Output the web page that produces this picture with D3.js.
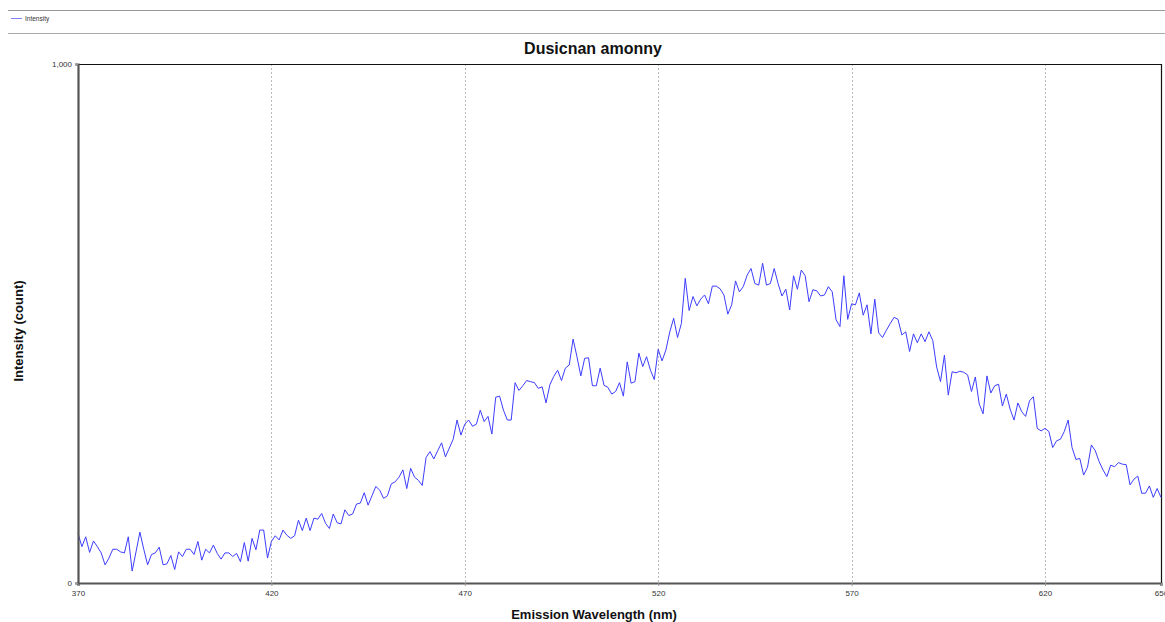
<!DOCTYPE html>
<html><head><meta charset="utf-8">
<script src="https://cdn.jsdelivr.net/npm/d3@7"></script>
<style>
html,body{margin:0;padding:0;background:#fff;overflow:hidden;}
svg{display:block;font-family:"Liberation Sans",Arial,sans-serif;}
</style></head><body>
<svg id="chart" width="1165" height="622"></svg>
<script>
const title = "Dusicnan amonny";
const xLabel = "Emission Wavelength (nm)";
const yLabel = "Intensity (count)";
const seriesName = "Intensity";
const xStart = 370;
const xTicks = [370, 420, 470, 520, 570, 620, 650];
const yTicks = [0, 1000];
const intensity = [
96,70,89,59,81,70,58,35,48,65,
65,60,58,89,23,60,98,65,35,55,
58,69,35,37,53,26,60,51,65,65,
55,80,44,65,58,73,57,46,58,58,
51,57,41,78,42,86,64,102,102,48,
80,91,83,102,92,86,91,121,101,125,
101,125,123,134,115,105,133,116,114,141,
130,133,152,154,174,150,168,186,179,163,
168,191,195,204,218,182,221,204,198,188,
242,253,239,255,270,243,260,277,314,285,
306,314,302,306,333,311,321,287,358,360,
333,314,314,386,371,380,390,388,386,375,
378,347,382,398,410,390,414,420,470,436,
399,433,434,380,380,414,381,377,364,369,
386,360,426,385,388,443,417,436,410,392,
450,428,449,484,510,473,500,587,525,552,
534,547,555,538,572,572,567,555,518,536,
582,561,571,593,606,577,574,616,574,577,
606,577,553,566,526,592,566,603,592,542,
565,563,553,555,571,561,507,494,592,508,
538,536,559,516,536,480,547,482,473,487,
500,512,508,478,484,446,480,463,480,465,
484,467,416,388,439,362,407,405,408,406,
401,369,397,345,326,399,366,380,383,341,
364,335,314,347,330,321,351,359,298,293,
298,292,261,274,277,292,314,261,238,240,
208,223,266,255,234,218,205,227,224,232,
229,228,189,200,206,173,173,187,165,182,
165
];
const data = intensity.map((v, i) => ({x: xStart + i, y: v}));

const svg = d3.select("#chart");
const W = 1165, H = 622;
const m = {left: 78, top: 64, right: 1161, bottom: 583};

// legend area
svg.append("line").attr("x1", 8).attr("x2", W).attr("y1", 10.5).attr("y2", 10.5)
  .attr("stroke", "#999").attr("stroke-width", 1);
svg.append("line").attr("x1", 8).attr("x2", W).attr("y1", 33.5).attr("y2", 33.5)
  .attr("stroke", "#aaa").attr("stroke-width", 1);
svg.append("line").attr("x1", 11).attr("x2", 22).attr("y1", 18.5).attr("y2", 18.5)
  .attr("stroke", "#8080ff").attr("stroke-width", 1);
svg.append("text").attr("x", 25).attr("y", 20.5).attr("font-size", 6.5)
  .attr("fill", "#333").text(seriesName);

const x = d3.scaleLinear().domain([370, 650]).range([m.left, m.right]);
const y = d3.scaleLinear().domain([0, 1000]).range([m.bottom, m.top]);

// gridlines
svg.append("g").selectAll("line").data(xTicks.filter(t => t > 370 && t < 650)).join("line")
  .attr("x1", d => Math.round(x(d)) + 0.5).attr("x2", d => Math.round(x(d)) + 0.5)
  .attr("y1", m.top).attr("y2", m.bottom)
  .attr("stroke", "#bbb").attr("stroke-width", 1).attr("stroke-dasharray", "2,2");

// frame top/right
svg.append("line").attr("x1", m.left).attr("x2", m.right).attr("y1", m.top + 0.5).attr("y2", m.top + 0.5)
  .attr("stroke", "#111").attr("stroke-width", 1.2);
svg.append("line").attr("x1", m.right + 0.5).attr("x2", m.right + 0.5).attr("y1", m.top).attr("y2", m.bottom)
  .attr("stroke", "#111").attr("stroke-width", 1.2);

// line
svg.append("path").datum(data)
  .attr("fill", "none").attr("stroke", "#3d3dff").attr("stroke-width", 1)
  .attr("stroke-linejoin", "round")
  .attr("d", d3.line().x(d => x(d.x)).y(d => y(d.y)));

// axes
const xAxis = svg.append("g").attr("transform", `translate(0,${m.bottom})`)
  .call(d3.axisBottom(x).tickValues(xTicks).tickSize(3).tickFormat(d3.format("d")));
const yAxis = svg.append("g").attr("transform", `translate(${m.left},0)`)
  .call(d3.axisLeft(y).tickValues(yTicks).tickSize(3).tickFormat(d3.format(",")));
[xAxis, yAxis].forEach(g => {
  g.select(".domain").attr("stroke", "#555").attr("stroke-width", 2.2);
  g.selectAll(".tick line").attr("stroke", "#999");
  g.selectAll(".tick text").attr("font-size", 8).attr("fill", "#333")
    .attr("font-family", "Liberation Sans, Arial, sans-serif");
});
xAxis.selectAll(".tick text").attr("dy", "0.9em");

// titles
svg.append("text").attr("x", 593).attr("y", 54)
  .attr("text-anchor", "middle").attr("font-size", 16).attr("font-weight", "bold")
  .attr("fill", "#111").text(title);
svg.append("text").attr("x", 594).attr("y", 619)
  .attr("text-anchor", "middle").attr("font-size", 13).attr("font-weight", "bold")
  .attr("fill", "#111").text(xLabel);
svg.append("text").attr("transform", `translate(23,331) rotate(-90)`)
  .attr("text-anchor", "middle").attr("font-size", 13).attr("font-weight", "bold")
  .attr("fill", "#111").text(yLabel);
</script>
</body></html>
